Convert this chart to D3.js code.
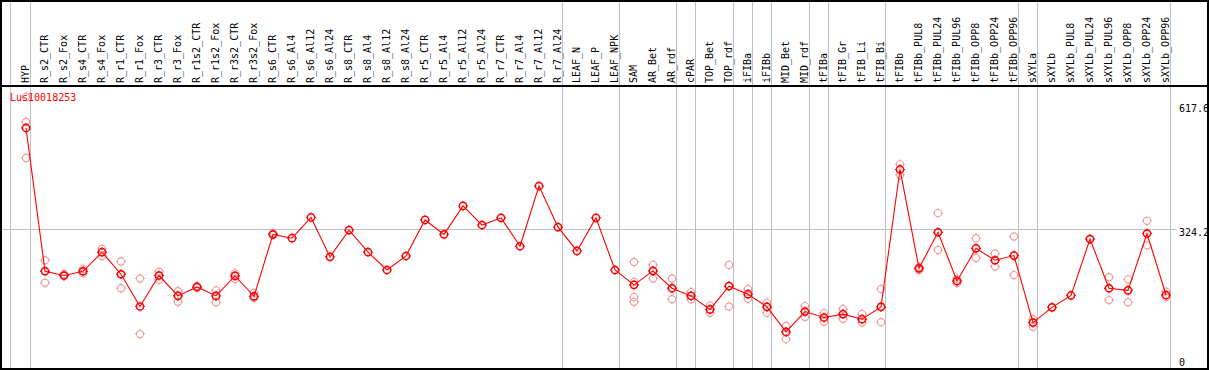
<!DOCTYPE html>
<html lang="en">
  <head>
    <meta charset="UTF-8" />
    <script src="https://cdn.jsdelivr.net/npm/d3@7"></script>
    <style>
      * {
        margin: 0;
        padding: 0;
      }
      body {
        background: #fff;
      }
      svg text {
        font-family: 'DejaVu Sans Mono', monospace;
        font-size: 10px;
      }
    </style>
    <title>Lus10018253</title>
  </head>
  <body>
    <div id="chart"></div>
  </body>
  <script>
    const geneName = 'Lus10018253';

    const samples = [
      'HYP', 'R_s2_CTR', 'R_s2_Fox', 'R_s4_CTR', 'R_s4_Fox', 'R_r1_CTR', 'R_r1_Fox',
      'R_r3_CTR', 'R_r3_Fox', 'R_r1s2_CTR', 'R_r1s2_Fox', 'R_r3s2_CTR', 'R_r3s2_Fox',
      'R_s6_CTR', 'R_s6_Al4', 'R_s6_Al12', 'R_s6_Al24', 'R_s8_CTR', 'R_s8_Al4',
      'R_s8_Al12', 'R_s8_Al24', 'R_r5_CTR', 'R_r5_Al4', 'R_r5_Al12', 'R_r5_Al24',
      'R_r7_CTR', 'R_r7_Al4', 'R_r7_Al12', 'R_r7_Al24', 'LEAF_N', 'LEAF_P', 'LEAF_NPK',
      'SAM', 'AR_Bet', 'AR_rdf', 'cPAR', 'TOP_Bet', 'TOP_rdf', 'iFIBa', 'iFIBb',
      'MID_Bet', 'MID_rdf', 'tFIBa', 'tFIB_Gr', 'tFIB_Li', 'tFIB_Bi', 'tFIBb',
      'tFIBb_PUL8', 'tFIBb_PUL24', 'tFIBb_PUL96', 'tFIBb_OPP8', 'tFIBb_OPP24',
      'tFIBb_OPP96', 'sXYLa', 'sXYLb', 'sXYLb_PUL8', 'sXYLb_PUL24', 'sXYLb_PUL96',
      'sXYLb_OPP8', 'sXYLb_OPP24', 'sXYLb_OPP96',
    ];

    // mean expression per sample (joined by the line)
    const meanValues = [
      562, 224, 214, 224, 269, 217, 141, 214, 166, 187, 166, 213, 165,
      311, 302, 351, 258, 321, 269, 227, 260, 345, 311, 378, 333,
      350, 283, 425, 328, 272, 350, 227,
      192, 225, 184, 166, 134, 189, 170, 140, 81, 129, 115, 123, 111, 140, 464,
      231, 316, 201, 278, 250, 261,
      103, 139, 167, 300, 184, 179, 313, 168,
    ];

    // single replicates per sample (light circles)
    const replicateValues = [
      [635, 576, 491], [250, 197, 225], [213, 217, 214], [229, 219, 224],
      [277, 260, 269], [247, 184, 217], [207, 76], [223, 204, 215], [177, 152, 167],
      [189, 185, 187], [179, 151, 166], [219, 206, 214], [173, 161, 165],
      [313, 309], [], [], [], [], [], [], [], [], [], [], [],
      [], [], [], [], [], [], [],
      [246, 199, 163, 152], [239, 207, 225], [207, 158, 184], [175, 158, 166],
      [143, 126, 134], [239, 141, 189], [182, 159, 170], [150, 126, 140],
      [95, 64, 81], [142, 116, 129], [105, 126, 115], [135, 112, 123],
      [123, 103, 111], [182, 141, 104], [476, 451, 464],
      [227, 234, 231], [361, 274, 316], [196, 206, 201], [302, 255, 278],
      [266, 235, 250], [306, 215, 261],
      [111, 93, 103], [139], [167], [300], [210, 156, 184], [205, 151, 179],
      [343, 285, 313], [176, 163, 168],
    ];

    // index of the last sample in each group (a separator follows it)
    const groupEnds = [-1, 0, 28, 31, 34, 35, 37, 38, 39, 41, 42, 45, 52, 53, 60];

    const yTickValues = [0, 324.2, 617.6];

    const width = 1209;
    const height = 370;
    const headerBottom = 85;
    const plotBottom = 368;

    const svg = d3
      .select('#chart')
      .append('svg')
      .attr('width', width)
      .attr('height', height);

    const x = d3.scalePoint().domain(samples).range([26, 1166]);
    const step = x.step();
    const y = d3.scaleLinear().domain([0, 617.6]).range([366.3, 104.3]);

    const gridLayer = svg.append('g').attr('shape-rendering', 'crispEdges');
    const repLayer = svg.append('g');
    const lineLayer = svg.append('g');
    const meanLayer = svg.append('g');
    const textLayer = svg.append('g');

    // vertical group separators, full height
    const sepX = (d) => (d < 0 ? 10 : Math.round(x.range()[0] + step * d + 4)) + 0.5;
    gridLayer
      .selectAll('line.sep')
      .data(groupEnds)
      .join('line')
      .attr('class', 'sep')
      .attr('x1', sepX)
      .attr('x2', sepX)
      .attr('y1', 0)
      .attr('y2', plotBottom)
      .attr('stroke', '#c0c0c0')
      .attr('stroke-width', 1);

    // horizontal grid at the middle tick
    gridLayer
      .append('line')
      .attr('x1', 1)
      .attr('x2', 1177)
      .attr('y1', Math.round(y(yTickValues[1])) + 0.5)
      .attr('y2', Math.round(y(yTickValues[1])) + 0.5)
      .attr('stroke', '#c0c0c0');

    // frame + header separator
    const frame = svg.append('g').attr('shape-rendering', 'crispEdges');
    frame
      .append('rect')
      .attr('x', 1)
      .attr('y', 0.5)
      .attr('width', 1206.5)
      .attr('height', plotBottom)
      .attr('fill', 'none')
      .attr('stroke', '#000')
      .attr('stroke-width', 2);
    frame
      .append('line')
      .attr('x1', 0)
      .attr('x2', width)
      .attr('y1', headerBottom + 0.5)
      .attr('y2', headerBottom + 0.5)
      .attr('stroke', '#000')
      .attr('stroke-width', 2);

    // sample labels
    textLayer
      .selectAll('text.sample')
      .data(samples)
      .join('text')
      .attr('class', 'sample')
      .attr('transform', (d) => `translate(${x(d) + 3},${headerBottom - 2}) rotate(-90)`)
      .attr('text-anchor', 'start')
      .attr('fill', '#000')
      .text((d) => d);

    // gene name
    textLayer
      .append('text')
      .attr('x', 10)
      .attr('y', 101)
      .attr('fill', 'red')
      .text(geneName);

    // right axis
    const yAxis = d3
      .axisRight(y)
      .tickValues(yTickValues)
      .tickSize(0)
      .tickPadding(0)
      .tickFormat((d) => (d === 0 ? '0' : d3.format('.1f')(d)));
    const axisG = svg.append('g').attr('transform', 'translate(1179,0)').call(yAxis);
    axisG.select('.domain').remove();
    axisG
      .selectAll('text')
      .attr('font-family', 'DejaVu Sans Mono, monospace')
      .attr('font-size', 10)
      .attr('fill', '#000')
      .attr('x', 0)
      .attr('dy', null)
      .attr('dominant-baseline', 'central')
      .attr('y', (d) => Math.min(y(d) + 3.5, 362) - y(d));

    // marker helper: circle with short ticks
    function drawMarkers(layer, pts, color, sw) {
      const g = layer
        .selectAll('g.m')
        .data(pts)
        .join('g')
        .attr('class', 'm')
        .attr('transform', (d) => `translate(${d.x},${d.y})`);
      g.append('circle')
        .attr('r', 3.6)
        .attr('fill', 'none')
        .attr('stroke', color)
        .attr('stroke-width', sw);
      g.append('path')
        .attr('d', 'M0,-5V-4M0,4V5M-5,0H-4M4,0H5')
        .attr('stroke', color)
        .attr('stroke-width', 1);
    }

    const repPts = [];
    replicateValues.forEach((vals, i) => {
      vals.forEach((v) => repPts.push({ x: x(samples[i]), y: y(v) }));
    });
    drawMarkers(repLayer, repPts, '#ee9a9a', 1.1);

    const meanPts = meanValues.map((v, i) => ({ x: x(samples[i]), y: y(v) }));
    lineLayer
      .append('path')
      .datum(meanPts)
      .attr('d', d3.line().x((d) => d.x).y((d) => d.y))
      .attr('fill', 'none')
      .attr('stroke', 'red')
      .attr('stroke-width', 1.1);
    drawMarkers(meanLayer, meanPts, 'red', 1.5);
  </script>
</html>
